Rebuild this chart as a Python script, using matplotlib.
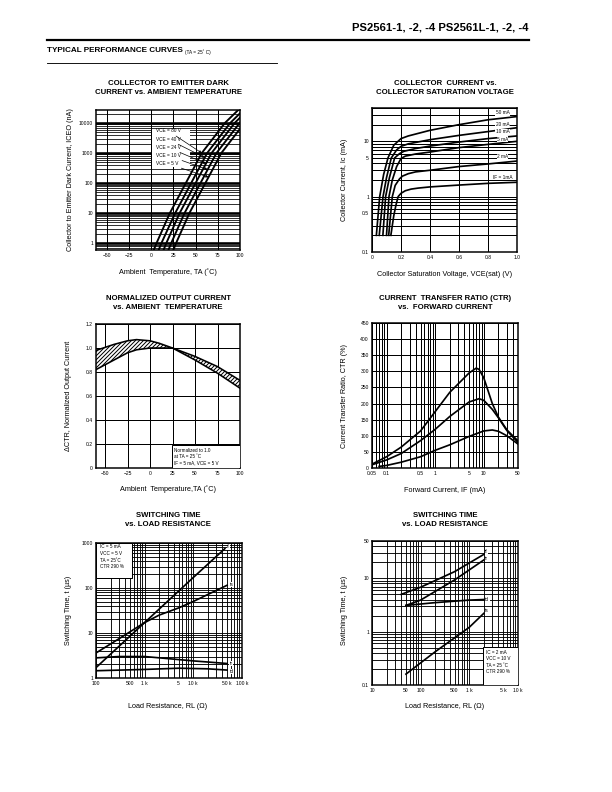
import numpy as np
import matplotlib
matplotlib.use('Agg')
import matplotlib.pyplot as plt
from matplotlib.ticker import LogLocator, NullFormatter
from matplotlib.patches import Rectangle

plt.rcParams['font.family'] = ['Liberation Sans', 'DejaVu Sans']

# ---- data ----
# dark current vs ambient temperature (T in C, I in nA)
vce_labels = ['VCE = 80 V', 'VCE = 40 V', 'VCE = 24 V', 'VCE = 10 V', 'VCE = 5 V']
dark_T = [
    [3, 6, 21, 39, 57, 83, 98],
    [8.5, 11.5, 27, 45, 63, 89, 100],
    [14, 17, 32, 50, 68, 94, 100],
    [19.5, 22.5, 37.5, 55.5, 73.5, 100],
    [25, 28, 43, 61, 79, 100],
]
dark_I = [
    [0.6, 1, 10, 100, 1000, 10000, 27000],
    [0.6, 1, 10, 100, 1000, 10000, 21000],
    [0.6, 1, 10, 100, 1000, 10000, 15000],
    [0.6, 1, 10, 100, 1000, 10300],
    [0.6, 1, 10, 100, 1000, 6400],
]

# collector current vs saturation voltage
if_labels = ['50 mA', '20 mA', '10 mA', '5 mA', '2 mA', 'IF = 1mA']
if_label_y = [32.5, 20.5, 14.8, 11.0, 5.4, 2.2]
sat_V = [
    [0.03, 0.053, 0.08, 0.11, 0.15, 0.2, 0.25, 0.4, 0.6, 0.8, 1.0],
    [0.05, 0.076, 0.1, 0.133, 0.17, 0.2, 0.25, 0.4, 0.6, 0.8, 1.0],
    [0.075, 0.094, 0.12, 0.156, 0.19, 0.22, 0.3, 0.4, 0.6, 0.8, 1.0],
    [0.1, 0.117, 0.14, 0.17, 0.2, 0.23, 0.3, 0.4, 0.6, 0.8, 1.0],
    [0.115, 0.14, 0.16, 0.19, 0.21, 0.25, 0.3, 0.4, 0.6, 0.8, 1.0],
    [0.13, 0.15, 0.165, 0.18, 0.2, 0.23, 0.27, 0.32, 0.4, 0.6, 0.8, 1.0],
]
sat_I = [
    [0.2, 1, 2.5, 5, 8.5, 11.2, 12.5, 15.8, 20, 24.5, 28],
    [0.2, 1, 2.2, 5, 7, 8.1, 9, 10.7, 12.8, 15, 17.6],
    [0.2, 1, 2.2, 5, 6.0, 6.6, 7.4, 8.2, 9.7, 11.2, 12.5],
    [0.2, 1, 2, 3.5, 4.9, 5.4, 5.9, 6.4, 7.7, 8.8, 10],
    [0.2, 1, 1.6, 2.1, 2.35, 2.6, 2.8, 3.0, 3.5, 3.9, 4.4],
    [0.2, 0.45, 0.7, 1.0, 1.15, 1.28, 1.37, 1.43, 1.5, 1.62, 1.74, 1.82],
]

# normalized output current band
norm_T = [-60, -50, -40, -25, -15, 0, 10, 25, 50, 75, 100]
norm_hi = [0.98, 1.005, 1.03, 1.06, 1.07, 1.06, 1.04, 1.0, 0.93, 0.845, 0.73]
norm_lo = [0.82, 0.86, 0.9, 0.96, 0.985, 1.0, 1.0, 1.0, 0.9, 0.79, 0.665]

# CTR vs forward current
ctr_IF = [
    [0.05, 0.1, 0.2, 0.5, 1, 2, 5, 7, 8, 10, 15, 20, 30, 50],
    [0.05, 0.1, 0.2, 0.5, 1, 2, 5, 8, 10, 15, 20, 30, 50],
    [0.07, 0.1, 0.2, 0.5, 1, 2, 5, 10, 15, 20, 30, 50],
]
ctr_val = [
    [12, 35, 65, 115, 175, 235, 295, 310, 306, 280, 200, 158, 118, 85],
    [10, 25, 45, 85, 120, 160, 205, 215, 210, 182, 156, 116, 80],
    [5, 8, 18, 35, 55, 72, 98, 115, 118, 114, 100, 75],
]

# switching time, IC = 5 mA
sw1_names = ['tf', 'ts', 'tr', 'td']
sw1_R = [
    [100, 1000, 10000, 45000],
    [100, 300, 1000, 2000, 5000, 10000, 50000],
    [100, 300, 1000, 3000, 10000, 50000],
    [100, 1000, 5000, 20000, 50000],
]
sw1_t = [
    [1.7, 17, 170, 750],
    [3.6, 7.5, 17, 25, 36, 50, 115],
    [2.8, 3.0, 3.0, 2.7, 2.4, 2.1],
    [1.45, 1.55, 1.65, 1.6, 1.5],
]

# switching time, IC = 2 mA
sw2_names = ['tf', 'tr', 'td', 'ts']
sw2_R = [
    [40, 100, 500, 2000],
    [50, 100, 500, 2000],
    [50, 200, 1000, 2000],
    [50, 200, 1000, 2000],
]
sw2_t = [
    [5.0, 6.8, 13.3, 28],
    [3.1, 3.9, 9.3, 22],
    [3.1, 3.5, 3.9, 4.0],
    [0.16, 0.42, 1.2, 2.2],
]

W, H = 612, 792
fig = plt.figure(figsize=(W / 72, H / 72), dpi=72)

TICK_FS = 5
LAB_FS = 7.3


def fx(x):
    return x / W


def fy(y):
    return 1 - y / H


def place(l, t, r, b):
    return fig.add_axes([l / W, 1 - b / H, (r - l) / W, (b - t) / H])


def style(ax):
    for s in ax.spines.values():
        s.set_linewidth(1.5)
    ax.tick_params(which='both', length=0, labelsize=TICK_FS, pad=3)
    ax.set_axisbelow(True)


def logminor(axis):
    axis.set_minor_locator(LogLocator(base=10, subs=np.arange(2, 10), numticks=30))
    axis.set_minor_formatter(NullFormatter())


def title(x, y, s):
    fig.text(fx(x), fy(y), s, ha='center', va='center', fontsize=7.8,
             fontweight='bold', linespacing=1.3)


def xlab(x, y, s):
    fig.text(fx(x), fy(y), s, ha='center', va='center', fontsize=LAB_FS)


def ylab(x, y, s):
    fig.text(fx(x), fy(y), s, ha='center', va='center', fontsize=LAB_FS, rotation=90)


# header
fig.text(fx(528), fy(28), 'PS2561-1, -2, -4 PS2561L-1, -2, -4', ha='right', va='center',
         fontsize=11.2, fontweight='bold')
fig.add_artist(plt.Line2D([fx(47), fx(529)], [fy(40), fy(40)], color='black', lw=2.2))
fig.text(fx(47), fy(51), 'TYPICAL PERFORMANCE CURVES', ha='left', va='center',
         fontsize=8.1, fontweight='bold')
fig.text(fx(185), fy(52), '(TA = 25\u02da C)', ha='left', va='center', fontsize=4.8)
fig.add_artist(plt.Line2D([fx(47), fx(277)], [fy(63), fy(63)], color='black', lw=0.9))

# ---- 1: dark current ----
ax1 = place(96, 110, 240, 250)
style(ax1)
ax1.set_yscale('log')
ax1.set_xlim(-62, 100)
ax1.set_ylim(0.6, 27000)
ax1.set_xticks([-50, -25, 0, 25, 50, 75, 100])
ax1.set_yticks([1, 10, 100, 1000, 10000], ['1', '10', '100', '1000', '10000'])
logminor(ax1.yaxis)
ax1.yaxis.grid(True, which='major', color='black', lw=2.6)
ax1.yaxis.grid(True, which='minor', color='black', lw=0.8)
ax1.xaxis.grid(True, which='major', color='black', lw=1.0)
for T, I in zip(dark_T, dark_I):
    ax1.plot(T, I, color='black', lw=1.9)
ax1.add_patch(Rectangle(((152 - 96) / 144, (250 - 167) / 140), 38 / 144, 38 / 140,
                        transform=ax1.transAxes, facecolor='white', edgecolor='none', zorder=3))
lab_y = [131, 139.3, 147.5, 155.7, 163.5]
arrow_lvl = [3.0, 2.85, 2.65, 2.45, 2.2]
for k, (lab, py) in enumerate(zip(vce_labels, lab_y)):
    yv = 10 ** arrow_lvl[k]
    xv = np.interp(arrow_lvl[k], np.log10(dark_I[k]), dark_T[k])
    ax1.annotate(lab, xy=(xv, yv), xycoords='data',
                 xytext=((156 - 96) / 144, (250 - py) / 140), textcoords='axes fraction',
                 fontsize=4.7, ha='left', va='center', zorder=4,
                 arrowprops=dict(arrowstyle='-|>', color='black', lw=0.7,
                                 mutation_scale=5, shrinkA=1, shrinkB=0))
title(168, 88, 'COLLECTOR TO EMITTER DARK\nCURRENT vs. AMBIENT TEMPERATURE')
xlab(168, 272, 'Ambient  Temperature, TA (\u02daC)')
ylab(70, 180, 'Collector to Emitter Dark Current, ICEO (nA)')

# ---- 2: collector current vs VCE(sat) ----
ax2 = place(372, 108, 517, 252)
style(ax2)
ax2.set_yscale('log')
ax2.set_xlim(0, 1.0)
ax2.set_ylim(0.1, 40)
ax2.set_xticks([0, 0.2, 0.4, 0.6, 0.8, 1.0], ['0', '0.2', '0.4', '0.6', '0.8', '1.0'])
ax2.set_yticks([0.1, 0.5, 1, 5, 10], ['0.1', '0.5', '1', '5', '10'])
logminor(ax2.yaxis)
ax2.grid(True, which='both', axis='y', color='black', lw=1.0)
ax2.grid(True, which='major', axis='x', color='black', lw=1.0)
for V, I in zip(sat_V, sat_I):
    ax2.plot(V, I, color='black', lw=1.7)
for lab, yv in zip(if_labels, if_label_y):
    ax2.text(0.9, yv, lab, fontsize=4.7, ha='center', va='center', zorder=4,
             bbox=dict(facecolor='white', edgecolor='none', pad=0.3))
title(445, 88, 'COLLECTOR  CURRENT vs.\nCOLLECTOR SATURATION VOLTAGE')
xlab(445, 274, 'Collector Saturation Voltage, VCE(sat) (V)')
ylab(345, 180, 'Collector Current, Ic (mA)')

# ---- 3: normalized output current ----
ax3 = place(96, 324, 240, 468)
style(ax3)
ax3.set_xlim(-60, 100)
ax3.set_ylim(0, 1.2)
ax3.set_xticks([-50, -25, 0, 25, 50, 75, 100])
ax3.set_yticks([0, 0.2, 0.4, 0.6, 0.8, 1.0, 1.2], ['0', '0.2', '0.4', '0.6', '0.8', '1.0', '1.2'])
ax3.grid(True, color='black', lw=1.0)
ax3.fill_between(norm_T, norm_lo, norm_hi, facecolor='white', edgecolor='black',
                 hatch='//////', lw=0, zorder=2)
ax3.plot(norm_T, norm_hi, color='black', lw=1.6, zorder=3)
ax3.plot(norm_T, norm_lo, color='black', lw=1.6, zorder=3)
ax3.add_patch(Rectangle(((171.7 - 96) / 144, 0), (240 - 171.7) / 144, (468 - 445) / 144,
                        transform=ax3.transAxes, facecolor='white', edgecolor='black',
                        lw=1.0, zorder=4))
ax3.text((174.5 - 96) / 144, (468 - 447.5) / 144,
         'Normalized to 1.0\nat TA = 25 \u02daC\nIF = 5 mA, VCE = 5 V',
         transform=ax3.transAxes, fontsize=4.6, ha='left', va='top', zorder=5,
         linespacing=1.3)
title(168, 303, 'NORMALIZED OUTPUT CURRENT\nvs. AMBIENT  TEMPERATURE')
xlab(168, 489, 'Ambient  Temperature,TA (\u02daC)')
ylab(68, 396, '\u0394CTR, Normalized Output Current')

# ---- 4: CTR vs forward current ----
ax4 = place(372, 323, 517.7, 468)
style(ax4)
ax4.set_xscale('log')
ax4.set_xlim(0.05, 50)
ax4.set_ylim(0, 450)
ax4.set_xticks([0.05, 0.1, 0.5, 1, 5, 10, 50], ['0.05', '0.1', '0.5', '1', '5', '10', '50'])
logminor(ax4.xaxis)
ax4.set_yticks(np.arange(0, 451, 50))
ax4.grid(True, which='both', axis='x', color='black', lw=1.0)
ax4.grid(True, which='major', axis='y', color='black', lw=1.0)
for x, y in zip(ctr_IF, ctr_val):
    ax4.plot(x, y, color='black', lw=1.7)
title(445, 303, 'CURRENT  TRANSFER RATIO (CTR)\nvs.  FORWARD CURRENT')
xlab(445, 490, 'Forward Current, IF (mA)')
ylab(345, 396, 'Current Transfer Ratio, CTR (%)')

# ---- 5: switching time, IC = 5 mA ----
ax5 = place(96, 543, 241.7, 678)
style(ax5)
ax5.set_xscale('log')
ax5.set_yscale('log')
ax5.set_xlim(100, 100000)
ax5.set_ylim(1, 1000)
ax5.set_xticks([100, 500, 1000, 5000, 10000, 50000, 100000],
               ['100', '500', '1 k', '5', '10 k', '50 k', '100 k'])
ax5.set_yticks([1, 10, 100, 1000], ['1', '10', '100', '1000'])
logminor(ax5.xaxis)
logminor(ax5.yaxis)
ax5.grid(True, which='both', color='black', lw=0.9)
for R, tt in zip(sw1_R, sw1_t):
    ax5.plot(R, tt, color='black', lw=1.7)
for name, R, tt, dy in zip(sw1_names, sw1_R, sw1_t, [1.1, 1.05, 1.0, 0.93]):
    ax5.text(R[-1] * 1.12, tt[-1] * dy, name, fontsize=4.7, ha='left', va='center',
             zorder=4, bbox=dict(facecolor='white', edgecolor='none', pad=0.3))
ax5.add_patch(Rectangle((0, (678 - 578) / 135), (131.7 - 96) / 145.7, (578 - 543) / 135,
                        transform=ax5.transAxes, facecolor='white', edgecolor='black',
                        lw=1.0, zorder=4))
ax5.text((100 - 96) / 145.7, (678 - 544.5) / 135,
         'IC = 5 mA\nVCC = 5 V\nTA = 25\u02daC\nCTR 290 %',
         transform=ax5.transAxes, fontsize=4.6, ha='left', va='top', zorder=5,
         linespacing=1.4)
title(168, 520, 'SWITCHING TIME\nvs. LOAD RESISTANCE')
xlab(168, 706, 'Load Resistance, RL (\u03a9)')
ylab(68, 610, 'Switching Time, t (\u00b5s)')

# ---- 6: switching time, IC = 2 mA ----
ax6 = place(372, 541, 517.7, 685)
style(ax6)
ax6.set_xscale('log')
ax6.set_yscale('log')
ax6.set_xlim(10, 10000)
ax6.set_ylim(0.1, 50)
ax6.set_xticks([10, 50, 100, 500, 1000, 5000, 10000],
               ['10', '50', '100', '500', '1 k', '5 k', '10 k'])
ax6.set_yticks([0.1, 1, 10, 50], ['0.1', '1', '10', '50'])
logminor(ax6.xaxis)
logminor(ax6.yaxis)
ax6.grid(True, which='both', color='black', lw=0.9)
for R, tt in zip(sw2_R, sw2_t):
    ax6.plot(R, tt, color='black', lw=1.7)
for name, R, tt, dy in zip(sw2_names, sw2_R, sw2_t, [1.15, 1.08, 1.0, 1.12]):
    ax6.text(R[-1] * 1.08, tt[-1] * dy, name, fontsize=4.7, ha='left', va='center',
             zorder=4, bbox=dict(facecolor='white', edgecolor='none', pad=0.3))
ax6.add_patch(Rectangle(((483 - 372) / 145.7, 0), (517.7 - 483) / 145.7, (685 - 646.7) / 144,
                        transform=ax6.transAxes, facecolor='white', edgecolor='black',
                        lw=1.0, zorder=4))
ax6.text((486 - 372) / 145.7, (685 - 649.5) / 144,
         'IC = 2 mA\nVCC = 10 V\nTA = 25 \u02daC\nCTR 290 %',
         transform=ax6.transAxes, fontsize=4.6, ha='left', va='top', zorder=5,
         linespacing=1.4)
title(445, 520, 'SWITCHING TIME\nvs. LOAD RESISTANCE')
xlab(445, 706, 'Load Resistance, RL (\u03a9)')
ylab(345, 610, 'Switching Time, t (\u00b5s)')

fig.savefig('out.png', dpi=72)
